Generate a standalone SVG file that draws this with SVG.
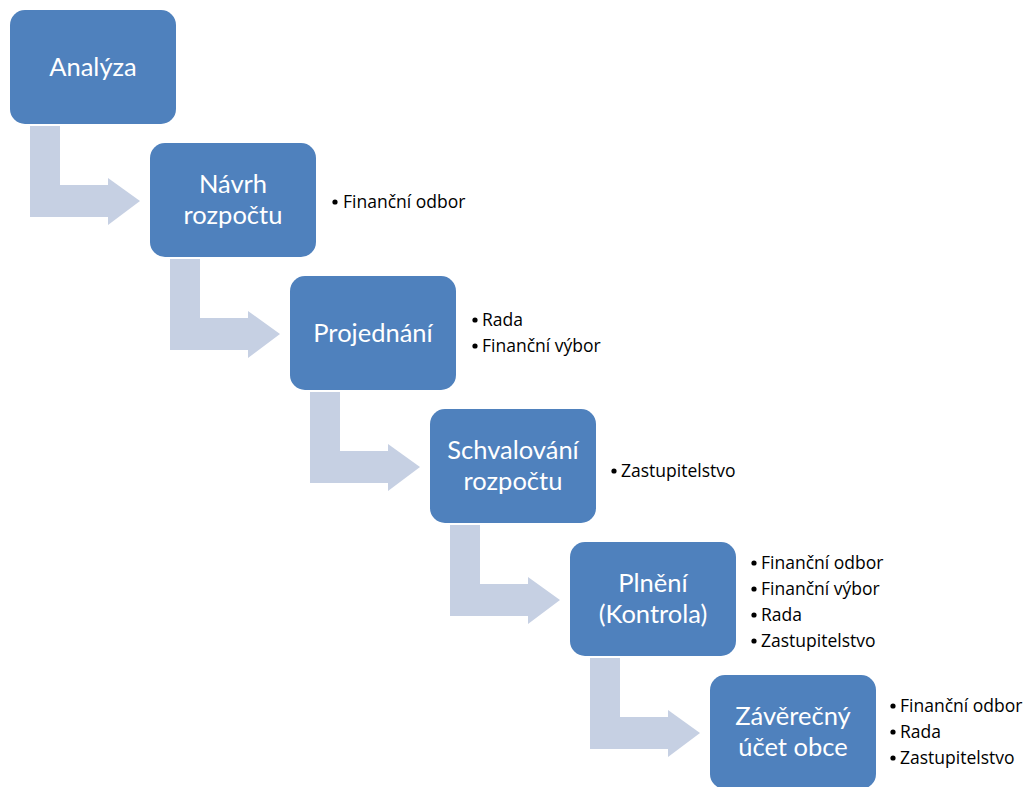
<svg xmlns="http://www.w3.org/2000/svg" width="1027" height="787" viewBox="0 0 1027 787">
<style>
.box{fill:#4F81BD}
.arr{fill:#C6D0E3}
.t{font-family:Lato,"Open Sans","Liberation Sans",sans-serif;font-size:25.5px;fill:#fff;text-anchor:middle}
.b{font-family:"Open Sans","Liberation Sans",sans-serif;font-size:17.5px;fill:#000}
.d{fill:#000}
</style>
<defs>
<path id="ar" d="M20,116 H50 V175 H98 V168 L130,191 L98,215 V207 H20 Z"/>
</defs>
<rect width="1027" height="787" fill="#fff"/>
<g id="connectors">
<use href="#ar" class="arr" transform="translate(10,10)"/>
<use href="#ar" class="arr" transform="translate(150,143)"/>
<use href="#ar" class="arr" transform="translate(290,276)"/>
<use href="#ar" class="arr" transform="translate(430,409)"/>
<use href="#ar" class="arr" transform="translate(570,542)"/>
</g>
<g id="n1"><rect class="box" x="10" y="10" width="166" height="114" rx="15"/><text class="t" x="93" y="76">Analýza</text></g>
<g id="n2"><rect class="box" x="150" y="143" width="166" height="114" rx="15"/><text class="t" x="233" y="193">Návrh<tspan x="233" dy="31">rozpočtu</tspan></text>
<circle class="d" cx="335" cy="202" r="2.6"/><text class="b" x="343" y="208">Finanční odbor</text></g>
<g id="n3"><rect class="box" x="290" y="276" width="166" height="114" rx="15"/><text class="t" x="373" y="342">Projednání</text>
<circle class="d" cx="475" cy="320" r="2.6"/><text class="b" x="482" y="326">Rada</text>
<circle class="d" cx="475" cy="346" r="2.6"/><text class="b" x="482" y="352">Finanční výbor</text></g>
<g id="n4"><rect class="box" x="430" y="409" width="166" height="114" rx="15"/><text class="t" x="513" y="459">Schvalování<tspan x="513" dy="31">rozpočtu</tspan></text>
<circle class="d" cx="614" cy="471" r="2.6"/><text class="b" x="621" y="477">Zastupitelstvo</text></g>
<g id="n5"><rect class="box" x="570" y="542" width="166" height="114" rx="15"/><text class="t" x="653" y="592">Plnění<tspan x="653" dy="31">(Kontrola)</tspan></text>
<circle class="d" cx="754" cy="563" r="2.6"/><text class="b" x="761" y="569">Finanční odbor</text>
<circle class="d" cx="754" cy="589" r="2.6"/><text class="b" x="761" y="595">Finanční výbor</text>
<circle class="d" cx="754" cy="615" r="2.6"/><text class="b" x="761" y="621">Rada</text>
<circle class="d" cx="754" cy="641" r="2.6"/><text class="b" x="761" y="647">Zastupitelstvo</text></g>
<g id="n6"><rect class="box" x="710" y="675" width="166" height="114" rx="15"/><text class="t" x="793" y="725">Závěrečný<tspan x="793" dy="31">účet obce</tspan></text>
<circle class="d" cx="893" cy="706" r="2.6"/><text class="b" x="900" y="712">Finanční odbor</text>
<circle class="d" cx="893" cy="732" r="2.6"/><text class="b" x="900" y="738">Rada</text>
<circle class="d" cx="893" cy="758" r="2.6"/><text class="b" x="900" y="764">Zastupitelstvo</text></g>
</svg>
